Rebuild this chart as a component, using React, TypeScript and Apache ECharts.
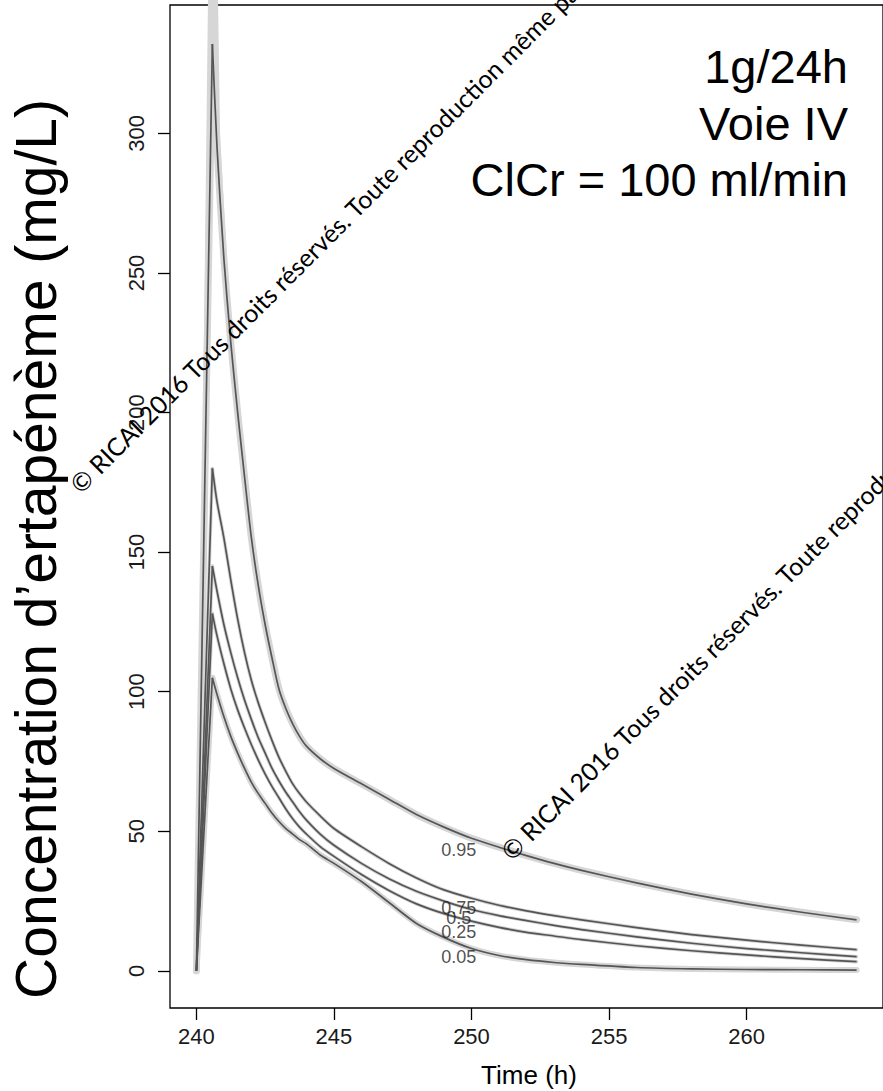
import React, { useEffect, useRef } from "react";
import * as echarts from "echarts";

// Time grid (h)
const times = [240, 240.58, 240.75, 241, 241.25, 241.5, 241.75, 242, 242.25, 242.5, 242.75, 243, 243.25, 243.5, 243.75, 244, 244.5, 245, 246, 247, 248, 249, 250, 251, 252, 253, 254, 256, 258, 260, 262, 264];

// Quantile concentration curves (mg/L)
const q95 = [0, 332, 295, 255, 225, 200, 177, 155, 138, 124, 112, 101, 94, 88.5, 84, 80.5, 76, 72.5, 67, 61.5, 56, 51.5, 47.5, 44.3, 41.3, 38.5, 36, 31.5, 27.5, 24, 21, 18.3];
const q75 = [0, 180, 168, 155, 140, 126, 114, 104, 96, 89, 82.5, 76.5, 71.5, 67, 63.5, 60.5, 55.5, 51, 44.5, 38.5, 33.3, 29, 26, 23.5, 21.5, 19.8, 18.3, 15.5, 13, 11, 9.2, 7.6];
const q50 = [0, 145, 136, 124, 114, 105, 97, 90, 83.5, 78, 72.5, 68, 64, 60.5, 57, 54, 49, 45, 38.5, 33, 28.5, 25, 22, 19.8, 18, 16.3, 14.8, 12.2, 9.9, 8, 6.5, 5.1];
const q25 = [0, 128, 120, 110, 101, 93.5, 87, 81, 75.5, 70.5, 66, 62, 58, 54.5, 51.5, 49, 44.5, 41, 34.5, 28.8, 24, 20.5, 17.8, 15.6, 13.8, 12.5, 11.2, 9, 7.2, 5.7, 4.4, 3.3];
const q05 = [0, 105, 99, 91, 84, 78, 72.5, 67.5, 63.5, 60, 56.5, 53.5, 51, 49, 47, 45.5, 41.5, 38.5, 32, 24.5, 17, 12, 8, 5.5, 4, 3, 2.3, 1.2, 0.7, 0.5, 0.4, 0.3];

const quantileNames = ["0.95", "0.75", "0.5", "0.25", "0.05"];
const labelTime = 249.54;
const labelValues = [43.3, 22.6, 19.0, 14.0, 5.0];

// Confidence band spike of the 0.95 curve around the peak
const peakBand95 = [[240, 0], [240.58, 480], [240.86, 300], [241.25, 228], [241.25, 225], [241, 255], [240.75, 295], [240.58, 332]];

const xTicks = [240, 245, 250, 255, 260];
const yTicks = [0, 50, 100, 150, 200, 250, 300];

const annotationLines = ["1g/24h", "Voie IV", "ClCr = 100 ml/min"];
const yTitle = "Concentration d’ertapénème (mg/L)";
const xTitle = "Time (h)";
const watermark = "© RICAI 2016 Tous droits réservés. Toute reproduction même partielle interdite";

const FONT = "'Liberation Sans', Arial, Helvetica, sans-serif";

export default function App() {
  const ref = useRef<HTMLDivElement>(null);

  useEffect(() => {
    if (!ref.current) return;
    const chart = echarts.init(ref.current, undefined, { renderer: "svg" });
    const curves = [q95, q75, q50, q25, q05];
    const haloWidths = [7, 3.5, 3.5, 3.5, 6];

    const series: any[] = [];
    const addCurve = (arr: number[], k: number, halo: boolean) => {
      const pts = times.map((t, i) => [t, arr[i]]);
      const style = halo
        ? { color: "#d6d6d6", width: haloWidths[k], join: "round", cap: "round" }
        : { color: "#555555", width: 1.7, join: "round" };
      // rising (infusion) part: straight
      series.push({
        type: "line",
        data: pts.slice(0, 2),
        symbol: "none",
        silent: true,
        z: halo ? 2 : 3,
        lineStyle: style,
      });
      // elimination part: smooth
      series.push({
        type: "line",
        data: pts.slice(1),
        symbol: "none",
        smooth: 0.25,
        silent: true,
        z: halo ? 2 : 3,
        lineStyle: style,
      });
    };
    curves.forEach((arr, k) => addCurve(arr, k, true));
    series.push({
      type: "custom",
      silent: true,
      z: 2,
      clip: false,
      data: [peakBand95[0]],
      renderItem: (params: any, api: any) => {
        if (params.dataIndex !== 0) return null;
        const pts = peakBand95.map((p) => api.coord(p));
        return { type: "polygon", shape: { points: pts }, style: { fill: "#d6d6d6" } };
      },
    });
    curves.forEach((arr, k) => addCurve(arr, k, false));
    series.push({
      type: "scatter",
      silent: true,
      z: 4,
      symbolSize: 1,
      itemStyle: { color: "rgba(0,0,0,0)" },
      data: quantileNames.map((n, i) => ({ name: n, value: [labelTime, labelValues[i]] })),
      label: {
        show: true,
        position: "inside",
        formatter: "{b}",
        fontSize: 18,
        color: "#222",
        fontFamily: FONT,
      },
    });

    const wmStyle = { text: watermark, fontSize: 25, fontFamily: "Lato, 'Open Sans', sans-serif", fill: "#000", align: "left", verticalAlign: "middle" };

    chart.setOption({
      animation: false,
      grid: { left: 170, top: 5, width: 714, height: 1003, show: true, borderColor: "#000", borderWidth: 1.3, backgroundColor: "transparent" },
      xAxis: {
        type: "value",
        min: 239.04,
        max: 264.96,
        axisLine: { show: false, onZero: false },
        splitLine: { show: false },
        axisTick: { show: true, length: 12, lineStyle: { color: "#000", width: 1.3 }, customValues: xTicks },
        axisLabel: { customValues: xTicks, margin: 17, fontSize: 22, color: "#1a1a1a", fontFamily: FONT },
      },
      yAxis: {
        type: "value",
        min: -13.3,
        max: 346,
        axisLine: { show: false, onZero: false },
        splitLine: { show: false },
        axisTick: { show: true, length: 12, lineStyle: { color: "#000", width: 1.3 }, customValues: yTicks },
        axisLabel: { customValues: yTicks, rotate: 90, margin: 23, fontSize: 22, color: "#1a1a1a", fontFamily: FONT },
      },
      series,
      graphic: [
        { type: "text", x: 36, y: 549, rotation: Math.PI / 2, z: 10, style: { text: yTitle, fontSize: 57, fontFamily: FONT, fill: "#000", align: "center", verticalAlign: "middle" } },
        ...annotationLines.map((s, i) => ({
          type: "text",
          x: 848,
          y: [66, 123, 179][i],
          z: 10,
          style: { text: s, fontSize: 47, fontFamily: FONT, fill: "#000", align: "right", verticalAlign: "middle" },
        })),
        { type: "text", x: 529, y: 1075, z: 10, style: { text: xTitle, fontSize: 26, fontFamily: FONT, fill: "#000", align: "center", verticalAlign: "middle" } },
        { type: "text", x: 74, y: 488, rotation: Math.PI / 4, z: 10, style: wmStyle },
        { type: "text", x: 505, y: 855, rotation: Math.PI / 4, z: 10, style: wmStyle },
      ],
    });
    return () => chart.dispose();
  }, []);

  return <div ref={ref} style={{ position: "fixed", left: 0, top: 0, width: 883, height: 1091, background: "#fff" }} />;
}
